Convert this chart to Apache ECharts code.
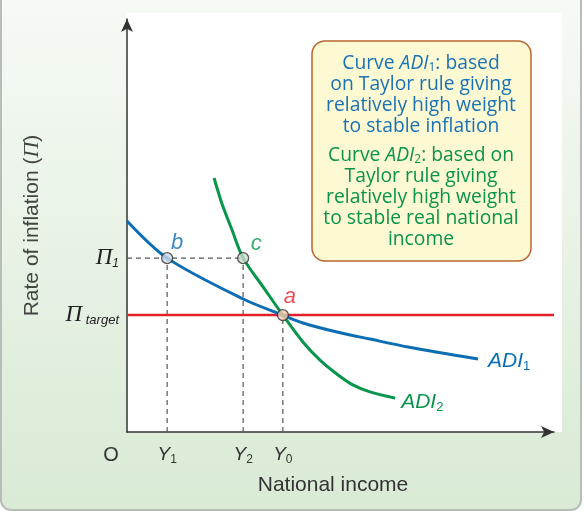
<!DOCTYPE html>
<html>
<head>
<meta charset="utf-8">
<script src="https://cdn.jsdelivr.net/npm/echarts@6/dist/echarts.min.js"></script>
<style>
	html, body { margin: 0; padding: 0; background: #fff; }
	#main { width: 584px; height: 513px; }
</style>
</head>
<body>
<div id="main"></div>
<script>
// curves (x = national income, y = inflation), 0..100 scale
var adi1 = [[0, 51.1], [9.4, 42.1], [27.2, 32.2], [36.5, 28.3], [41.2, 26.4], [49.2, 24.2], [56.9, 22.5], [65.8, 20.6], [82.2, 17.7]];
var adi2 = [[20.4, 61.5], [22.2, 55.4], [24.6, 48.9], [27.2, 42.1], [31.9, 35.1], [36.5, 28.3], [41.2, 21.8], [45.2, 17.4], [49.2, 14.0], [52.9, 11.4], [56.9, 9.7], [62.8, 8.2]];

// equilibrium levels
var incomeTicks = [9.4, 27.2, 36.5];          // Y1, Y2, Y0
var incomeSubs = ['1', '2', '0'];
var inflationTicks = [28.3, 42.1];            // Π target, Π1
var inflationSubs = ['target', '1'];

// points a, b, c
var pointNames = ['b', 'c', 'a'];
var pointX = [9.4, 27.2, 36.5];
var pointY = [42.1, 42.1, 28.3];

var blue = '#0b6db3';
var green = '#07964b';
var red = '#e4202c';

var myChart = echarts.init(document.getElementById('main'));

// dashed guide lines
var guides = [];
guides.push([[0, pointY[1]], [pointX[1], pointY[1]]]);
for (var i = 0; i < pointX.length; i++) {
	guides.push([[pointX[i], 0], [pointX[i], pointY[i]]]);
}
var guideSeries = guides.map(function(d) {
	return {
		type: 'line',
		data: d,
		showSymbol: false,
		silent: true,
		z: 1,
		lineStyle: { color: '#555', width: 1.2, type: [5, 4] }
	};
});

var pointColors = { a: '#f7c9b1', b: '#c9d8eb', c: '#c8dccb' };
var labelColors = { a: red, b: blue, c: green };
var labelOffsets = { a: [7, -18], b: [10, -15], c: [13, -14] };

// box text styles
function boxRich(color) {
	return {
		i: { fill: color, fontSize: 19.3, fontStyle: 'italic', fontFamily: 'Open Sans', lineHeight: 21 },
		s: { fill: color, fontSize: 12, fontFamily: 'Open Sans', lineHeight: 21, verticalAlign: 'bottom' },
		t: { fill: color, fontSize: 19.3, fontFamily: 'Open Sans', lineHeight: 21 }
	};
}

var option = {
	animation: false,
	grid: { left: 127, top: 19, right: 30, bottom: 81 },
	graphic: [
		{
			type: 'rect', z: -100,
			shape: { x: 1, y: -12, width: 580, height: 522, r: 10 },
			style: {
				fill: new echarts.graphic.LinearGradient(0, 0, 0, 1, [
					{ offset: 0, color: '#f6fbf5' },
					{ offset: 1, color: '#d9ead5' }
				]),
				stroke: '#b9bdb9', lineWidth: 2
			}
		},
		{
			type: 'rect', z: -99,
			shape: { x: 127, y: 13, width: 435, height: 419 },
			style: { fill: '#fff' }
		},
		{
			type: 'rect', z: 100,
			shape: { x: 312, y: 41, width: 219, height: 220, r: 13 },
			style: { fill: '#fdf9d3', stroke: '#b8652f', lineWidth: 1.5 }
		},
		{
			type: 'text', z: 101,
			style: {
				x: 421, y: 53,
				text: 'Curve {i|ADI}{s|1}{t|: based}\non Taylor rule giving\nrelatively high weight\nto stable inflation',
				textAlign: 'center',
				fill: '#1a72b6',
				fontSize: 19.3,
				fontFamily: 'Open Sans',
				lineHeight: 21,
				rich: boxRich('#1a72b6')
			}
		},
		{
			type: 'text', z: 101,
			style: {
				x: 421, y: 145,
				text: 'Curve {i|ADI}{s|2}{t|: based on}\nTaylor rule giving\nrelatively high weight\nto stable real national\nincome',
				textAlign: 'center',
				fill: '#0a944b',
				fontSize: 19.3,
				fontFamily: 'Open Sans',
				lineHeight: 21,
				rich: boxRich('#0a944b')
			}
		},
		{
			type: 'text', z: 10,
			style: {
				x: 111, y: 455, text: 'O', textAlign: 'center', textVerticalAlign: 'middle',
				fill: '#333', fontSize: 20, fontFamily: 'Liberation Sans'
			}
		}
	],
	xAxis: {
		type: 'value', min: 0, max: 100,
		name: 'National income',
		nameLocation: 'middle',
		nameGap: 43,
		nameTextStyle: { color: '#333', fontSize: 21, fontFamily: 'Liberation Sans', padding: [0, 15, 0, 0] },
		splitLine: { show: false },
		axisTick: { show: false },
		axisLine: { lineStyle: { color: '#333', width: 1.5 }, symbol: ['none', 'arrow'], symbolSize: [9, 13] },
		axisLabel: {
			customValues: incomeTicks,
			margin: 12,
			formatter: function(v) {
				return '{y|Y}{s|' + incomeSubs[incomeTicks.indexOf(v)] + '}';
			},
			rich: {
				y: { color: '#333', fontSize: 19, fontStyle: 'italic', fontFamily: 'Liberation Sans', lineHeight: 22 },
				s: { color: '#333', fontSize: 12, fontFamily: 'Liberation Sans', lineHeight: 22, verticalAlign: 'bottom' }
			}
		}
	},
	yAxis: {
		type: 'value', min: 0, max: 100,
		name: 'Rate of inflation ({p|Π})',
		nameLocation: 'middle',
		nameGap: 84,
		nameTextStyle: {
			color: '#444', fontSize: 21, fontFamily: 'Liberation Sans',
			rich: { p: { color: '#444', fontSize: 22, fontStyle: 'italic', fontFamily: 'Liberation Serif' } }
		},
		splitLine: { show: false },
		axisTick: { show: false },
		axisLine: { lineStyle: { color: '#333', width: 1.5 }, symbol: ['none', 'arrow'], symbolSize: [9, 13] },
		axisLabel: {
			customValues: inflationTicks,
			margin: 8,
			formatter: function(v) {
				var s = inflationSubs[inflationTicks.indexOf(v)];
				return '{p|Π}' + (s === '1' ? '{n|1}' : '{t| target}');
			},
			rich: {
				p: { color: '#222', fontSize: 23, fontStyle: 'italic', fontFamily: 'Liberation Serif', lineHeight: 24 },
				n: { color: '#222', fontSize: 12, fontStyle: 'italic', fontFamily: 'Liberation Sans', lineHeight: 24, verticalAlign: 'bottom' },
				t: { color: '#222', fontSize: 13, fontStyle: 'italic', fontFamily: 'Liberation Sans', lineHeight: 24, verticalAlign: 'bottom' }
			}
		}
	},
	series: guideSeries.concat([
		{
			// target inflation line
			type: 'line',
			data: [[0, inflationTicks[0]], [100, inflationTicks[0]]],
			showSymbol: false,
			z: 2,
			lineStyle: { color: red, width: 2.5 }
		},
		{
			name: 'ADI1',
			type: 'line',
			data: adi1,
			smooth: 0.3,
			showSymbol: false,
			z: 3,
			lineStyle: { color: blue, width: 3 },
			endLabel: {
				show: true,
				distance: 10,
				offset: [0, 2],
				formatter: '{i|ADI}{s|1}',
				rich: {
					i: { color: blue, fontSize: 21, fontStyle: 'italic', fontFamily: 'Liberation Sans', lineHeight: 24 },
					s: { color: blue, fontSize: 13, fontFamily: 'Liberation Sans', lineHeight: 24, verticalAlign: 'bottom' }
				}
			}
		},
		{
			name: 'ADI2',
			type: 'line',
			data: adi2,
			smooth: 0.3,
			showSymbol: false,
			z: 3,
			lineStyle: { color: green, width: 3 },
			endLabel: {
				show: true,
				distance: 6,
				offset: [0, 4],
				formatter: '{i|ADI}{s|2}',
				rich: {
					i: { color: green, fontSize: 21, fontStyle: 'italic', fontFamily: 'Liberation Sans', lineHeight: 24 },
					s: { color: green, fontSize: 13, fontFamily: 'Liberation Sans', lineHeight: 24, verticalAlign: 'bottom' }
				}
			}
		},
		{
			type: 'scatter',
			z: 5,
			symbolSize: 11,
			data: pointNames.map(function(n, k) {
				return {
					name: n,
					value: [pointX[k], pointY[k]],
					itemStyle: { color: pointColors[n], borderColor: '#333', borderWidth: 1.3 },
					label: {
						show: true,
						position: 'inside',
						offset: labelOffsets[n],
						formatter: n,
						color: labelColors[n],
						fontSize: 22,
						fontStyle: 'italic',
						fontFamily: 'Liberation Sans'
					}
				};
			})
		}
	])
};

myChart.setOption(option);
</script>
</body>
</html>
